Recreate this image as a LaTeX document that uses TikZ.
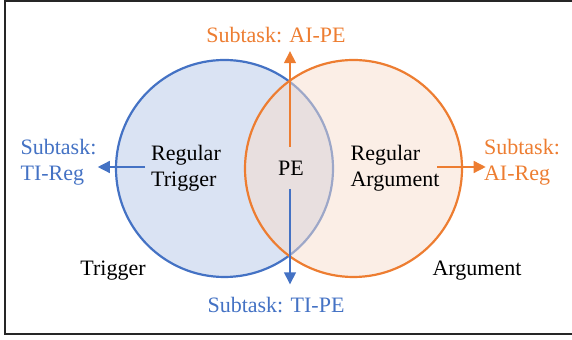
\documentclass[tikz,border=0pt]{standalone}
\usepackage{fontspec}
\setmainfont{Liberation Serif}
\usepackage{xcolor}
\usetikzlibrary{arrows.meta}

\definecolor{trigblue}{HTML}{4472C4}
\definecolor{argorange}{HTML}{ED7D31}
\definecolor{trigfill}{HTML}{DAE3F3}
\definecolor{argfill}{RGB}{247,221,205}
\definecolor{framegray}{HTML}{262626}

\tikzset{
    lbl/.style={inner sep=0pt, font=\fontsize{11}{13}\selectfont, align=left},
    subarrow/.style={line width=0.7pt, -{Triangle[length=6pt,width=6pt]}},
    setline/.style={line width=1.1pt}
}

\begin{document}
\begin{tikzpicture}[x=0.5pt,y=-0.5pt]
                \useasboundingbox (0,0) rectangle (572,340);
                \draw[framegray, line width=1pt] (5,1) rectangle (578,334);

                \draw[setline, trigblue, fill=trigfill] (224.5,168.5) circle (108.5);
                \draw[setline, argorange, fill=argfill, fill opacity=0.5] (353.5,168.5) circle (108.5);

                \node[lbl] (regtrig) at (186,168) {Regular\\Trigger};
                \node[lbl] (pe)      at (291,168) {PE};
                \node[lbl] (regarg)  at (395,168) {Regular\\Argument};
                \node[lbl] (trig)    at (113,271) {Trigger};
                \node[lbl] (arg)     at (477,271) {Argument};

                \node[lbl, argorange] (aipe)  at (276,35)    {Subtask: AI-PE};
                \node[lbl, trigblue]  (tipe)  at (276,305.5) {Subtask: TI-PE};
                \node[lbl, trigblue]  (tireg) at (58.5,162.5) {Subtask:\\TI-Reg};
                \node[lbl, argorange] (aireg) at (522,162.5) {Subtask:\\AI-Reg};

                \coordinate (peup)    at (290,147);
                \coordinate (pedown)  at (290,189);
                \coordinate (trigout) at (145,167);
                \coordinate (argout)  at (437,167);

                \draw[subarrow, argorange, shorten >=4pt]   (peup) -- (peup |- aipe.south);
                \draw[subarrow, trigblue, shorten >=6.5pt]  (pedown) -- (pedown |- tipe.north);
                \draw[subarrow, trigblue, shorten >=0.5pt]  (trigout) -- (trigout -| tireg.east);
                \draw[subarrow, argorange, shorten >=-1pt]  (argout) -- (argout -| aireg.west);
\end{tikzpicture}
\end{document}
